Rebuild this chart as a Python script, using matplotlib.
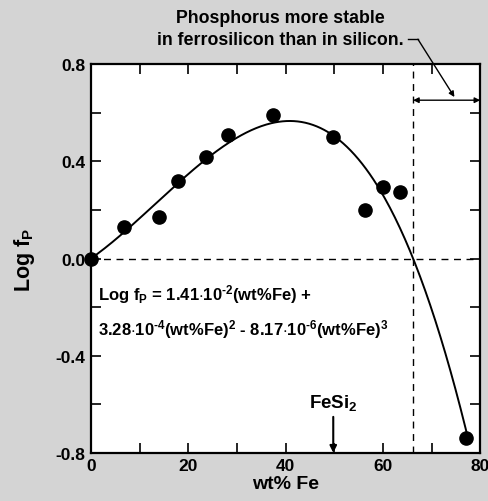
import numpy as np
import matplotlib
matplotlib.use('Agg')
import matplotlib.pyplot as plt
from matplotlib.ticker import MultipleLocator, FormatStrFormatter

plt.rcParams['font.family'] = ['Liberation Sans', 'DejaVu Sans']
plt.rcParams['font.weight'] = 'bold'
plt.rcParams['mathtext.fontset'] = 'custom'
plt.rcParams['mathtext.rm'] = 'Liberation Sans:bold'
plt.rcParams['mathtext.bf'] = 'Liberation Sans:bold'
plt.rcParams['mathtext.default'] = 'bf'

# measured points
wt_fe = [0.0, 6.8, 14.0, 17.9, 23.7, 28.2, 37.4, 49.8, 56.3, 60.1, 63.5, 77.1]
log_fp = [0.0, 0.13, 0.17, 0.32, 0.42, 0.51, 0.59, 0.50, 0.20, 0.295, 0.275, -0.74]

# fit coefficients printed on the chart (a1*x + a2*x^2 + a3*x^3)
coef = [1.41e-2, 3.28e-4, -8.17e-6]
x_fit_end = 77.5

fig = plt.figure(figsize=(4.89, 5.02), dpi=100, facecolor='#d4d4d4')
ax = fig.add_axes([0.186, 0.096, 0.796, 0.774])
ax.set_facecolor('white')

xf = np.linspace(0, x_fit_end, 300)
yf = coef[0]*xf + coef[1]*xf**2 + coef[2]*xf**3
ax.plot(xf, yf, color='black', lw=1.4, zorder=3)
ax.plot(wt_fe, log_fp, 'o', color='black', ms=9.5, zorder=4, clip_on=False)

# root of the fit (where log fP crosses 0)
a, b, c = coef[2], coef[1], coef[0]
x_root = (-b - np.sqrt(b*b - 4*a*c)) / (2*a)
ax.axhline(0, color='black', ls=(0, (5, 4)), lw=1.0, zorder=2)
ax.axvline(x_root, color='black', ls=(0, (5, 4)), lw=1.0, zorder=2)

ax.set_xlim(0, 80)
ax.set_ylim(-0.8, 0.8)
ax.xaxis.set_major_locator(MultipleLocator(20))
ax.xaxis.set_minor_locator(MultipleLocator(10))
ax.yaxis.set_major_locator(MultipleLocator(0.4))
ax.yaxis.set_minor_locator(MultipleLocator(0.2))
ax.tick_params(which='both', direction='in', top=True, right=True, width=1.2,
               labelsize=12.5, pad=4, length=7)
ax.xaxis.set_major_formatter(FormatStrFormatter('%d'))
ax.yaxis.set_major_formatter(FormatStrFormatter('%.1f'))
for s in ax.spines.values():
    s.set_linewidth(1.6)

ax.set_xlabel('wt% Fe', fontsize=14, fontweight='bold', labelpad=1)
ax.set_ylabel(r'Log f$_\mathrm{P}$', fontsize=15.5, fontweight='bold', labelpad=13)

# equation
ax.text(1.5, -0.144, r'Log f$_\mathrm{P}$ = 1.41$\cdot$10$^{\text{-}\mathrm{2}}$(wt%Fe) +',
        fontsize=12, fontweight='bold', ha='left', va='center')
ax.text(1.5, -0.287,
        r'3.28$\cdot$10$^{\text{-}\mathrm{4}}$(wt%Fe)$^\mathrm{2}$ - 8.17$\cdot$10$^{\text{-}\mathrm{6}}$(wt%Fe)$^\mathrm{3}$',
        fontsize=12, fontweight='bold', ha='left', va='center')

# FeSi2 marker
ax.annotate('', xy=(49.8, -0.8), xytext=(49.8, -0.652),
            arrowprops=dict(arrowstyle='-|>', color='black', lw=1.5, mutation_scale=10,
                            shrinkA=0, shrinkB=0))
ax.text(49.8, -0.59, r'FeSi$_\mathrm{2}$', fontsize=13.5, fontweight='bold',
        ha='center', va='center')

# double arrow region
ax.annotate('', xy=(x_root, 0.652), xytext=(80, 0.652),
            arrowprops=dict(arrowstyle='<|-|>', color='black', lw=1.0,
                            mutation_scale=8, shrinkA=0, shrinkB=0))
ax.text(38.9, 0.948, 'Phosphorus more stable\nin ferrosilicon than in silicon.',
        fontsize=12.8, fontweight='bold', ha='center', va='center',
        linespacing=1.35, clip_on=False)
ax.plot([65.2, 67.2], [0.903, 0.903], color='black', lw=1.0, clip_on=False)
ax.annotate('', xy=(74.7, 0.665), xytext=(67.2, 0.903),
            arrowprops=dict(arrowstyle='-|>', color='black', lw=1.0,
                            mutation_scale=8, shrinkA=0, shrinkB=0),
            annotation_clip=False)

fig.savefig('out.png', dpi=100, facecolor=fig.get_facecolor())
